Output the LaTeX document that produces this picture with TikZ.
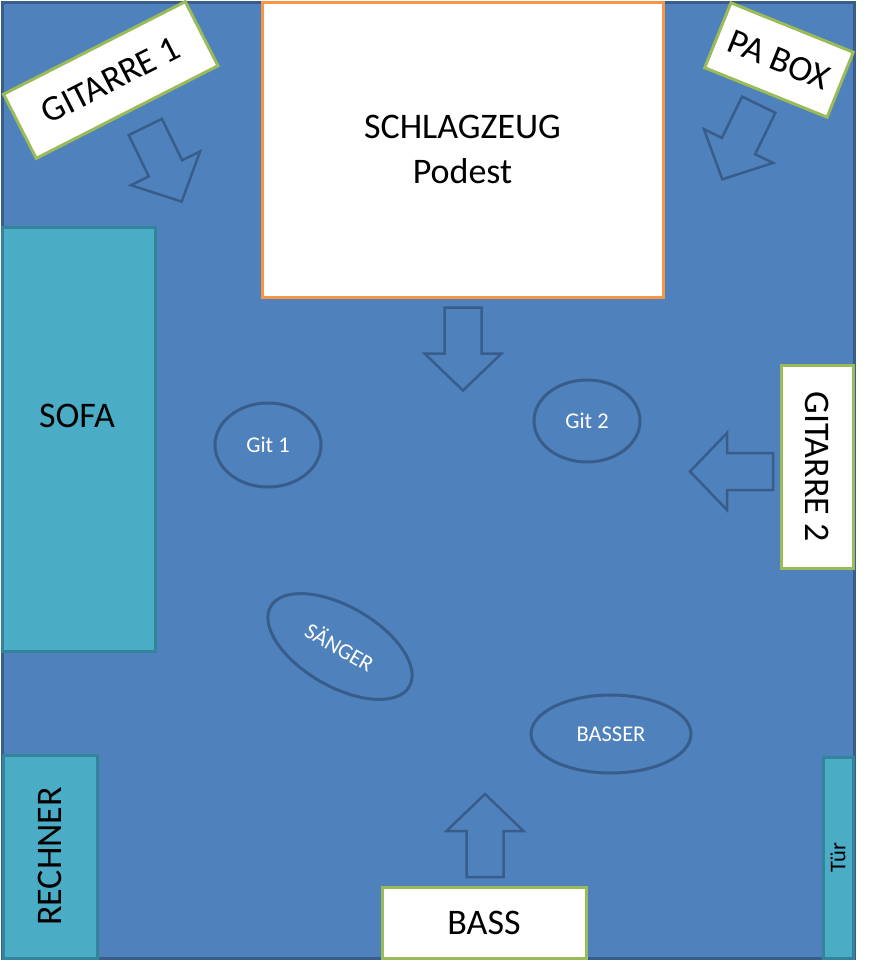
\documentclass[tikz,border=0pt]{standalone}
\usepackage{fontspec}
\setmainfont{Carlito}
\usetikzlibrary{shapes.geometric}
\definecolor{roomfill}{HTML}{4F81BD}
\definecolor{roomline}{HTML}{385D8A}
\definecolor{drumline}{HTML}{F79646}
\definecolor{labelline}{HTML}{9BBB59}
\definecolor{tealfill}{HTML}{4BACC6}
\definecolor{tealline}{HTML}{31849B}
\tikzset{
  bigtext/.style={font=\fontsize{36}{45}\selectfont},
  smalltext/.style={font=\fontsize{22.5}{27}\selectfont},
  labelbox/.style={draw=labelline, line width=3pt, fill=white, inner sep=0pt, bigtext, text=black},
  furniture/.style={draw=tealline, line width=3pt, fill=tealfill, inner sep=0pt},
  person/.style={ellipse, draw=roomline, line width=3pt, inner sep=0pt, smalltext, text=white},
  barrow/.pic={\draw[roomline, line width=2.5pt, line join=miter]
     (-18.5,41.5) -- (18.5,41.5) -- (18.5,-4.5) -- (38.5,-4.5) -- (0,-41.5)
     -- (-38.5,-4.5) -- (-18.5,-4.5) -- cycle;}
}
\begin{document}
\begin{tikzpicture}[x=1pt,y=1pt]
\useasboundingbox (0,0) rectangle (870,-969);
\fill[white] (0,0) rectangle (870,-969);
% room
\draw[fill=roomfill, draw=roomline, line width=3pt] (2,-2) rectangle (854,-958);
% drum riser
\node[draw=drumline, line width=3pt, fill=white, minimum width=401pt, minimum height=295pt,
      inner sep=0pt, bigtext, align=center] (drum) at (462.5,-149.5) {SCHLAGZEUG\\Podest};
% furniture
\node[furniture, minimum width=153pt, minimum height=424pt, bigtext] (sofa) at (78.5,-439) {};
\node[bigtext] at (77,-416) {SOFA};
\node[furniture, minimum width=203pt, minimum height=94pt, rotate=90, bigtext] (rechner) at (50,-856.5) {RECHNER};
\node[furniture, minimum width=201pt, minimum height=30pt, rotate=90, smalltext] (tuer) at (838,-857.5) {Tür};
% amp labels
\node[labelbox, minimum width=204pt, minimum height=72pt, rotate=27] (git1box) at (110.75,-80) {GITARRE 1};
\node[labelbox, minimum width=132pt, minimum height=70pt, rotate=-22] (pabox) at (779,-60) {PA BOX};
\node[labelbox, minimum width=203pt, minimum height=72pt, rotate=-90] (git2box) at (817,-466.5) {GITARRE 2};
\node[labelbox, minimum width=204pt, minimum height=71pt] (bassbox) at (484,-922.5) {BASS};
% arrows
\pic at (463,-349) {barrow};
\pic[rotate=180] at (485,-835.5) {barrow};
\pic[rotate=-90] at (731.5,-471.5) {barrow};
\pic[rotate=26] at (163.5,-164.3) {barrow};
\pic[rotate=-26] at (740.5,-142) {barrow};
% people
\node[person, minimum width=106pt, minimum height=84pt] (git1) at (268,-445) {Git 1};
\node[person, minimum width=106pt, minimum height=82pt] (git2) at (587,-421) {Git 2};
\node[person, minimum width=160pt, minimum height=80pt, rotate=-30] (saenger) at (340,-646.5) {SÄNGER};
\node[person, minimum width=160pt, minimum height=78pt] (basser) at (611,-734) {BASSER};
\end{tikzpicture}
\end{document}
